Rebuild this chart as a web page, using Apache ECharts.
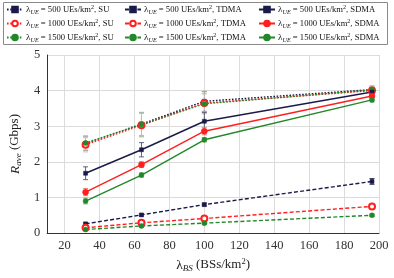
<!DOCTYPE html>
<html><head><meta charset="utf-8">
<script src="https://cdn.jsdelivr.net/npm/echarts@6/dist/echarts.min.js"></script>
<style>html,body{margin:0;padding:0;background:#fff}#c{width:394px;height:278px}</style>
</head><body><div id="c"></div>
<script>
const xValues = [32, 64, 100, 196];
const xTicks = [20, 40, 60, 80, 100, 120, 140, 160, 180, 200];
const yTicks = [0, 1, 2, 3, 4, 5];
const su500 = [2.52, 3.06, 3.70, 4.03];
const su1000 = [2.48, 3.03, 3.65, 4.00];
const su1500 = [2.53, 3.05, 3.63, 4.02];
const tdma500 = [0.26, 0.51, 0.80, 1.45];
const tdma1000 = [0.15, 0.29, 0.41, 0.75];
const tdma1500 = [0.10, 0.20, 0.28, 0.50];
const sdma500 = [1.68, 2.34, 3.14, 3.96];
const sdma1000 = [1.15, 1.92, 2.86, 3.85];
const sdma1500 = [0.90, 1.63, 2.62, 3.74];
const suErr = [0.20, 0.33, 0.28, 0.10];
const tdmaErr500 = [0.03, 0.03, 0.04, 0.08];
const tdmaErrSmall = [0.02, 0.02, 0.03, 0.03];
const sdmaErr500 = [0.18, 0.20, 0.25, 0.10];
const sdmaErr1000 = [0.10, 0.08, 0.10, 0.08];
const sdmaErr1500 = [0.08, 0.06, 0.06, 0.06];

const NAVY = '#1b1b4a', RED = '#ff1f1f', GREEN = '#22882a';
const FONT = 'Liberation Serif';

function pts(ys){ return xValues.map((x,i)=>[x, ys[i]]); }
function errPts(ys, es){ return xValues.map((x,i)=>[x, ys[i], es[i]]); }

const labels = {
  SU500: ['500','SU'], TD500: ['500','TDMA'], SD500: ['500','SDMA'],
  SU1000: ['1000','SU'], TD1000: ['1000','TDMA'], SD1000: ['1000','SDMA'],
  SU1500: ['1500','SU'], TD1500: ['1500','TDMA'], SD1500: ['1500','SDMA']
};

function lineSeries(name, ys, color, type, symbol, size){
  const hollow = symbol === 'emptyCircle';
  return {
    name, type: 'line', data: pts(ys), symbol, symbolSize: size,
    showSymbol: true, showAllSymbol: true, z: 5,
    lineStyle: { color, width: 1.4, type },
    itemStyle: { color, borderColor: color, borderWidth: hollow ? 1.5 : 0.5 },
    emphasis: { disabled: true }, animation: false
  };
}
function errSeries(ys, es, color, dashed){
  return {
    type: 'custom', data: errPts(ys, es), z: 3, silent: true, animation: false,
    renderItem: function(params, api){
      const x = api.value(0), y = api.value(1), e = api.value(2);
      const top = api.coord([x, y + e]);
      const bot = api.coord([x, y - e]);
      const st = { stroke: color, lineWidth: 0.9, lineDash: dashed ? [1.5,1.5] : null };
      return { type: 'group', children: [
        { type: 'line', shape: { x1: top[0], y1: top[1], x2: bot[0], y2: bot[1] }, style: st },
        { type: 'line', shape: { x1: top[0]-2.5, y1: top[1], x2: top[0]+2.5, y2: top[1] }, style: { stroke: color, lineWidth: 0.9 } },
        { type: 'line', shape: { x1: bot[0]-2.5, y1: bot[1], x2: bot[0]+2.5, y2: bot[1] }, style: { stroke: color, lineWidth: 0.9 } }
      ]};
    }
  };
}

const rich = {
  n: { fontFamily: FONT, fontSize: 8.6, color: '#111', lineHeight: 11 },
  l: { fontFamily: FONT, fontSize: 9.2, color: '#111', lineHeight: 11 },
  s: { fontFamily: FONT, fontSize: 6.2, fontStyle: 'italic', color: '#111', lineHeight: 7, verticalAlign: 'bottom' },
  p: { fontFamily: FONT, fontSize: 6, color: '#111', lineHeight: 7, verticalAlign: 'top' }
};
function legendFmt(name){
  const v = labels[name];
  return '{l|λ}{s|UE}{n| = ' + v[0] + ' UEs/km}{p|2}{n|, ' + v[1] + '}';
}
function legend(left, names){
  return {
    left, top: 4, padding: 0, orient: 'vertical', itemGap: 3, itemWidth: 16, itemHeight: 7,
    data: names, formatter: legendFmt, selectedMode: false,
    textStyle: { rich, fontFamily: FONT, fontSize: 8.6, padding: [0,0,0,-2] }
  };
}

const dotted = [1.6, 1.6], dashed = [4, 2.2];

const option = {
  animation: false,
  backgroundColor: '#fff',
  graphic: [{ type: 'rect', shape: { x: 3.5, y: 2.5, width: 384, height: 42 },
    style: { fill: '#fff', stroke: '#8a8a8a', lineWidth: 1 }, z: -1 }],
  legend: [
    legend(6, ['SU500','SU1000','SU1500']),
    legend(124, ['TD500','TD1000','TD1500']),
    legend(258, ['SD500','SD1000','SD1500'])
  ],
  grid: { left: 35, right: 15, top: 55, bottom: 41, containLabel: false },
  xAxis: {
    type: 'value', min: 10, max: 200, splitNumber: 10, minInterval: 20, maxInterval: 20,
    name: '{l|λ}{s|BS}{n| (BSs/km}{p|2}{n|)}', nameLocation: 'middle', nameGap: 22,
    nameTextStyle: { rich: {
      n: { fontFamily: FONT, fontSize: 13, color: '#222', lineHeight: 16 },
      l: { fontFamily: FONT, fontSize: 13.5, color: '#222', lineHeight: 16 },
      s: { fontFamily: FONT, fontSize: 9, fontStyle: 'italic', color: '#222', lineHeight: 10, verticalAlign: 'bottom' },
      p: { fontFamily: FONT, fontSize: 8.5, color: '#222', lineHeight: 10, verticalAlign: 'top' }
    }},
    axisLine: { show: true, lineStyle: { color: '#333', width: 1 } },
    axisTick: { show: false },
    axisLabel: { showMinLabel: false, fontFamily: FONT, fontSize: 12.5, color: '#333', margin: 6,
      formatter: v => xTicks.indexOf(v) >= 0 ? String(v) : '' },
    splitLine: { show: true, lineStyle: { color: '#dcdcdc', width: 1 } }
  },
  yAxis: {
    type: 'value', min: 0, max: 5, interval: 1,
    name: '{i|R}{s|ave}{n| (Gbps)}', nameLocation: 'middle', nameGap: 21,
    nameTextStyle: { rich: {
      n: { fontFamily: FONT, fontSize: 13, color: '#222', lineHeight: 16 },
      i: { fontFamily: FONT, fontSize: 13.5, fontStyle: 'italic', color: '#222', lineHeight: 16 },
      s: { fontFamily: FONT, fontSize: 9, fontStyle: 'italic', color: '#222', lineHeight: 10, verticalAlign: 'bottom' }
    }},
    axisLine: { show: true, lineStyle: { color: '#333', width: 1 } },
    axisTick: { show: false },
    axisLabel: { fontFamily: FONT, fontSize: 12.5, color: '#333', margin: 7,
      formatter: v => yTicks.indexOf(v) >= 0 ? String(v) : '' },
    splitLine: { show: true, lineStyle: { color: '#dcdcdc', width: 1 } }
  },
  series: [
    errSeries(su500, suErr, '#8888a0', true),
    errSeries(su1000, suErr, '#f0a0a0', true),
    errSeries(su1500, suErr, '#a0c8a0', true),
    errSeries(tdma500, tdmaErr500, NAVY, false),
    errSeries(tdma1000, tdmaErrSmall, RED, false),
    errSeries(tdma1500, tdmaErrSmall, GREEN, false),
    errSeries(sdma500, sdmaErr500, '#50506a', false),
    errSeries(sdma1000, sdmaErr1000, '#f07070', false),
    errSeries(sdma1500, sdmaErr1500, '#70b070', false),
    lineSeries('SU500', su500, NAVY, dotted, 'rect', 4),
    lineSeries('SU1000', su1000, RED, dotted, 'emptyCircle', 6),
    lineSeries('SU1500', su1500, GREEN, dotted, 'circle', 5),
    lineSeries('TD500', tdma500, NAVY, dashed, 'rect', 4),
    lineSeries('TD1000', tdma1000, RED, dashed, 'emptyCircle', 6),
    lineSeries('TD1500', tdma1500, GREEN, dashed, 'circle', 5),
    lineSeries('SD500', sdma500, NAVY, 'solid', 'rect', 4),
    lineSeries('SD1000', sdma1000, RED, 'solid', 'circle', 6),
    lineSeries('SD1500', sdma1500, GREEN, 'solid', 'circle', 5)
  ]
};
const chart = echarts.init(document.getElementById('c'), null, { renderer: 'canvas' });
chart.setOption(option);
</script></body></html>
